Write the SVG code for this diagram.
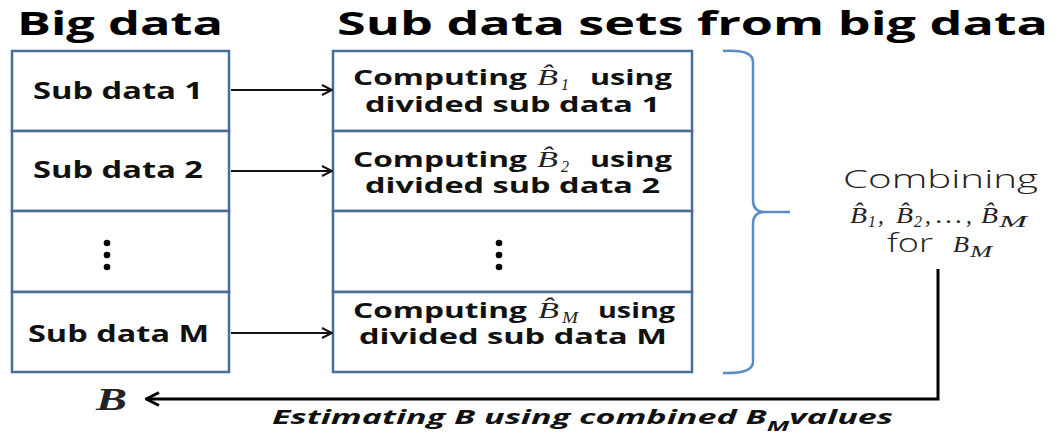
<svg xmlns="http://www.w3.org/2000/svg" width="1063" height="436" viewBox="0 0 1063 436">
<style>
.title{font-family:"Open Sans","Liberation Sans",sans-serif;font-weight:700;font-size:32px;fill:#000}
.lbl{font-family:"Open Sans","Liberation Sans",sans-serif;font-weight:700;font-size:24px;fill:#111}
.cmp{font-family:"Open Sans","Liberation Sans",sans-serif;font-weight:700;font-size:21px;fill:#111}
.math{font-family:"Liberation Serif","DejaVu Serif",serif;font-style:italic;font-size:23px;fill:#222}
.sub{font-family:"Liberation Serif","DejaVu Serif",serif;font-style:italic;font-size:16px;fill:#222}
.light{font-family:"Open Sans","Liberation Sans",sans-serif;font-weight:300;font-size:25px;fill:#222}
.est{font-family:"Open Sans","Liberation Sans",sans-serif;font-weight:700;font-style:italic;font-size:20px;fill:#111}
.box{fill:#fff;stroke:#4a6c9b;stroke-width:2.5}
.conn{fill:none;stroke:#111;stroke-width:2}
.brace{fill:none;stroke:#5b8cc8;stroke-width:2.5}
.dot{fill:#000}
</style>
<defs>
<marker id="ah" viewBox="0 0 12 12" refX="11" refY="6" markerWidth="12" markerHeight="12" markerUnits="userSpaceOnUse" orient="auto">
<path d="M1,1 L11,6 L1,11" fill="none" stroke="#111" stroke-width="2"/>
</marker>
<marker id="ahBig" viewBox="0 0 16 16" refX="15" refY="8" markerWidth="16" markerHeight="16" markerUnits="userSpaceOnUse" orient="auto">
<path d="M2,1.5 L14.5,8 L2,14.5" fill="none" stroke="#000" stroke-width="3"/>
</marker>
</defs>
<rect width="1063" height="436" fill="#fff"/>

<g id="titles">
<text class="title" x="17" y="35" textLength="206" lengthAdjust="spacingAndGlyphs">Big data</text>
<text class="title" x="337" y="35" textLength="711" lengthAdjust="spacingAndGlyphs">Sub data sets from big data</text>
</g>

<g id="big-data">
<g id="sub1"><rect class="box" x="12" y="51" width="217" height="80"/>
<text class="lbl" x="33" y="99" textLength="170" lengthAdjust="spacingAndGlyphs">Sub data 1</text></g>
<g id="sub2"><rect class="box" x="12" y="131" width="217" height="80"/>
<text class="lbl" x="33" y="178" textLength="170" lengthAdjust="spacingAndGlyphs">Sub data 2</text></g>
<g id="subdots"><rect class="box" x="12" y="211" width="217" height="81"/>
<circle class="dot" cx="107" cy="243" r="3.3"/><circle class="dot" cx="107" cy="255" r="3.3"/><circle class="dot" cx="107" cy="267" r="3.3"/></g>
<g id="subM"><rect class="box" x="12" y="292" width="217" height="80"/>
<text class="lbl" x="28" y="342" textLength="181" lengthAdjust="spacingAndGlyphs">Sub data M</text></g>
</g>

<g id="sub-sets">
<g id="comp1"><rect class="box" x="333" y="51" width="359" height="80"/>
<text class="cmp" x="353" y="85" textLength="174" lengthAdjust="spacingAndGlyphs">Computing</text>
<text class="math" y="85"><tspan x="537" textLength="21" lengthAdjust="spacingAndGlyphs">B&#770;</tspan><tspan class="sub" x="561" dy="5">1</tspan></text>
<text class="cmp" x="590" y="85" textLength="82" lengthAdjust="spacingAndGlyphs">using</text>
<text class="cmp" x="365" y="112" textLength="295" lengthAdjust="spacingAndGlyphs">divided sub data 1</text></g>
<g id="comp2"><rect class="box" x="333" y="131" width="359" height="80"/>
<text class="cmp" x="353" y="167" textLength="174" lengthAdjust="spacingAndGlyphs">Computing</text>
<text class="math" y="167"><tspan x="537" textLength="21" lengthAdjust="spacingAndGlyphs">B&#770;</tspan><tspan class="sub" x="561" dy="5">2</tspan></text>
<text class="cmp" x="590" y="167" textLength="82" lengthAdjust="spacingAndGlyphs">using</text>
<text class="cmp" x="365" y="193" textLength="295" lengthAdjust="spacingAndGlyphs">divided sub data 2</text></g>
<g id="compdots"><rect class="box" x="333" y="211" width="359" height="81"/>
<circle class="dot" cx="499" cy="243" r="3.3"/><circle class="dot" cx="499" cy="255" r="3.3"/><circle class="dot" cx="499" cy="267" r="3.3"/></g>
<g id="compM"><rect class="box" x="333" y="292" width="359" height="80"/>
<text class="cmp" x="353" y="318" textLength="174" lengthAdjust="spacingAndGlyphs">Computing</text>
<text class="math" y="318"><tspan x="538" textLength="21" lengthAdjust="spacingAndGlyphs">B&#770;</tspan><tspan class="sub" x="562" dy="5" textLength="16" lengthAdjust="spacingAndGlyphs">M</tspan></text>
<text class="cmp" x="598" y="318" textLength="77" lengthAdjust="spacingAndGlyphs">using</text>
<text class="cmp" x="359" y="344" textLength="308" lengthAdjust="spacingAndGlyphs">divided sub data M</text></g>
</g>

<g id="combine">
<text class="light" x="843" y="188" textLength="195" lengthAdjust="spacingAndGlyphs">Combining</text>
<text class="math" y="223"><tspan x="850" textLength="17" lengthAdjust="spacingAndGlyphs">B&#770;</tspan><tspan class="sub" x="868" dy="4">1</tspan><tspan x="878" dy="-4">,</tspan><tspan x="896" textLength="17" lengthAdjust="spacingAndGlyphs">B&#770;</tspan><tspan class="sub" x="914" dy="4">2</tspan><tspan x="925" dy="-4">,</tspan><tspan x="936" textLength="26" lengthAdjust="spacingAndGlyphs">…</tspan><tspan x="966">,</tspan><tspan x="981" textLength="17" lengthAdjust="spacingAndGlyphs">B&#770;</tspan><tspan class="sub" x="999" dy="4" textLength="28" lengthAdjust="spacingAndGlyphs">M</tspan></text>
<text class="light" x="887" y="252" textLength="46" lengthAdjust="spacingAndGlyphs">for</text>
<text class="math" y="252"><tspan x="953" textLength="16" lengthAdjust="spacingAndGlyphs">B</tspan><tspan class="sub" x="970" dy="5" textLength="22" lengthAdjust="spacingAndGlyphs">M</tspan></text>
</g>

<g id="result">
<text class="math" x="96" y="410" style="font-size:32px;font-weight:700" textLength="31" lengthAdjust="spacingAndGlyphs">B</text>
<text class="est" x="272" y="424" textLength="621" lengthAdjust="spacingAndGlyphs">Estimating B  using combined B<tspan dy="7" style="font-size:15px">M</tspan><tspan dy="-7">values</tspan></text>
</g>

<g id="connectors">
<line class="conn" x1="231" y1="90" x2="332" y2="90" marker-end="url(#ah)"/>
<line class="conn" x1="231" y1="171" x2="332" y2="171" marker-end="url(#ah)"/>
<line class="conn" x1="231" y1="333" x2="332" y2="333" marker-end="url(#ah)"/>
<path class="brace" d="M723,51 Q753,49 753,62 L753,200 Q753,211 763,212 L790,212 M763,212 Q753,213 753,224 L753,362 Q753,374 723,373"/>
<path d="M938,269 L938,399 L146,399" fill="none" stroke="#000" stroke-width="3" marker-end="url(#ahBig)"/>
</g>
</svg>
